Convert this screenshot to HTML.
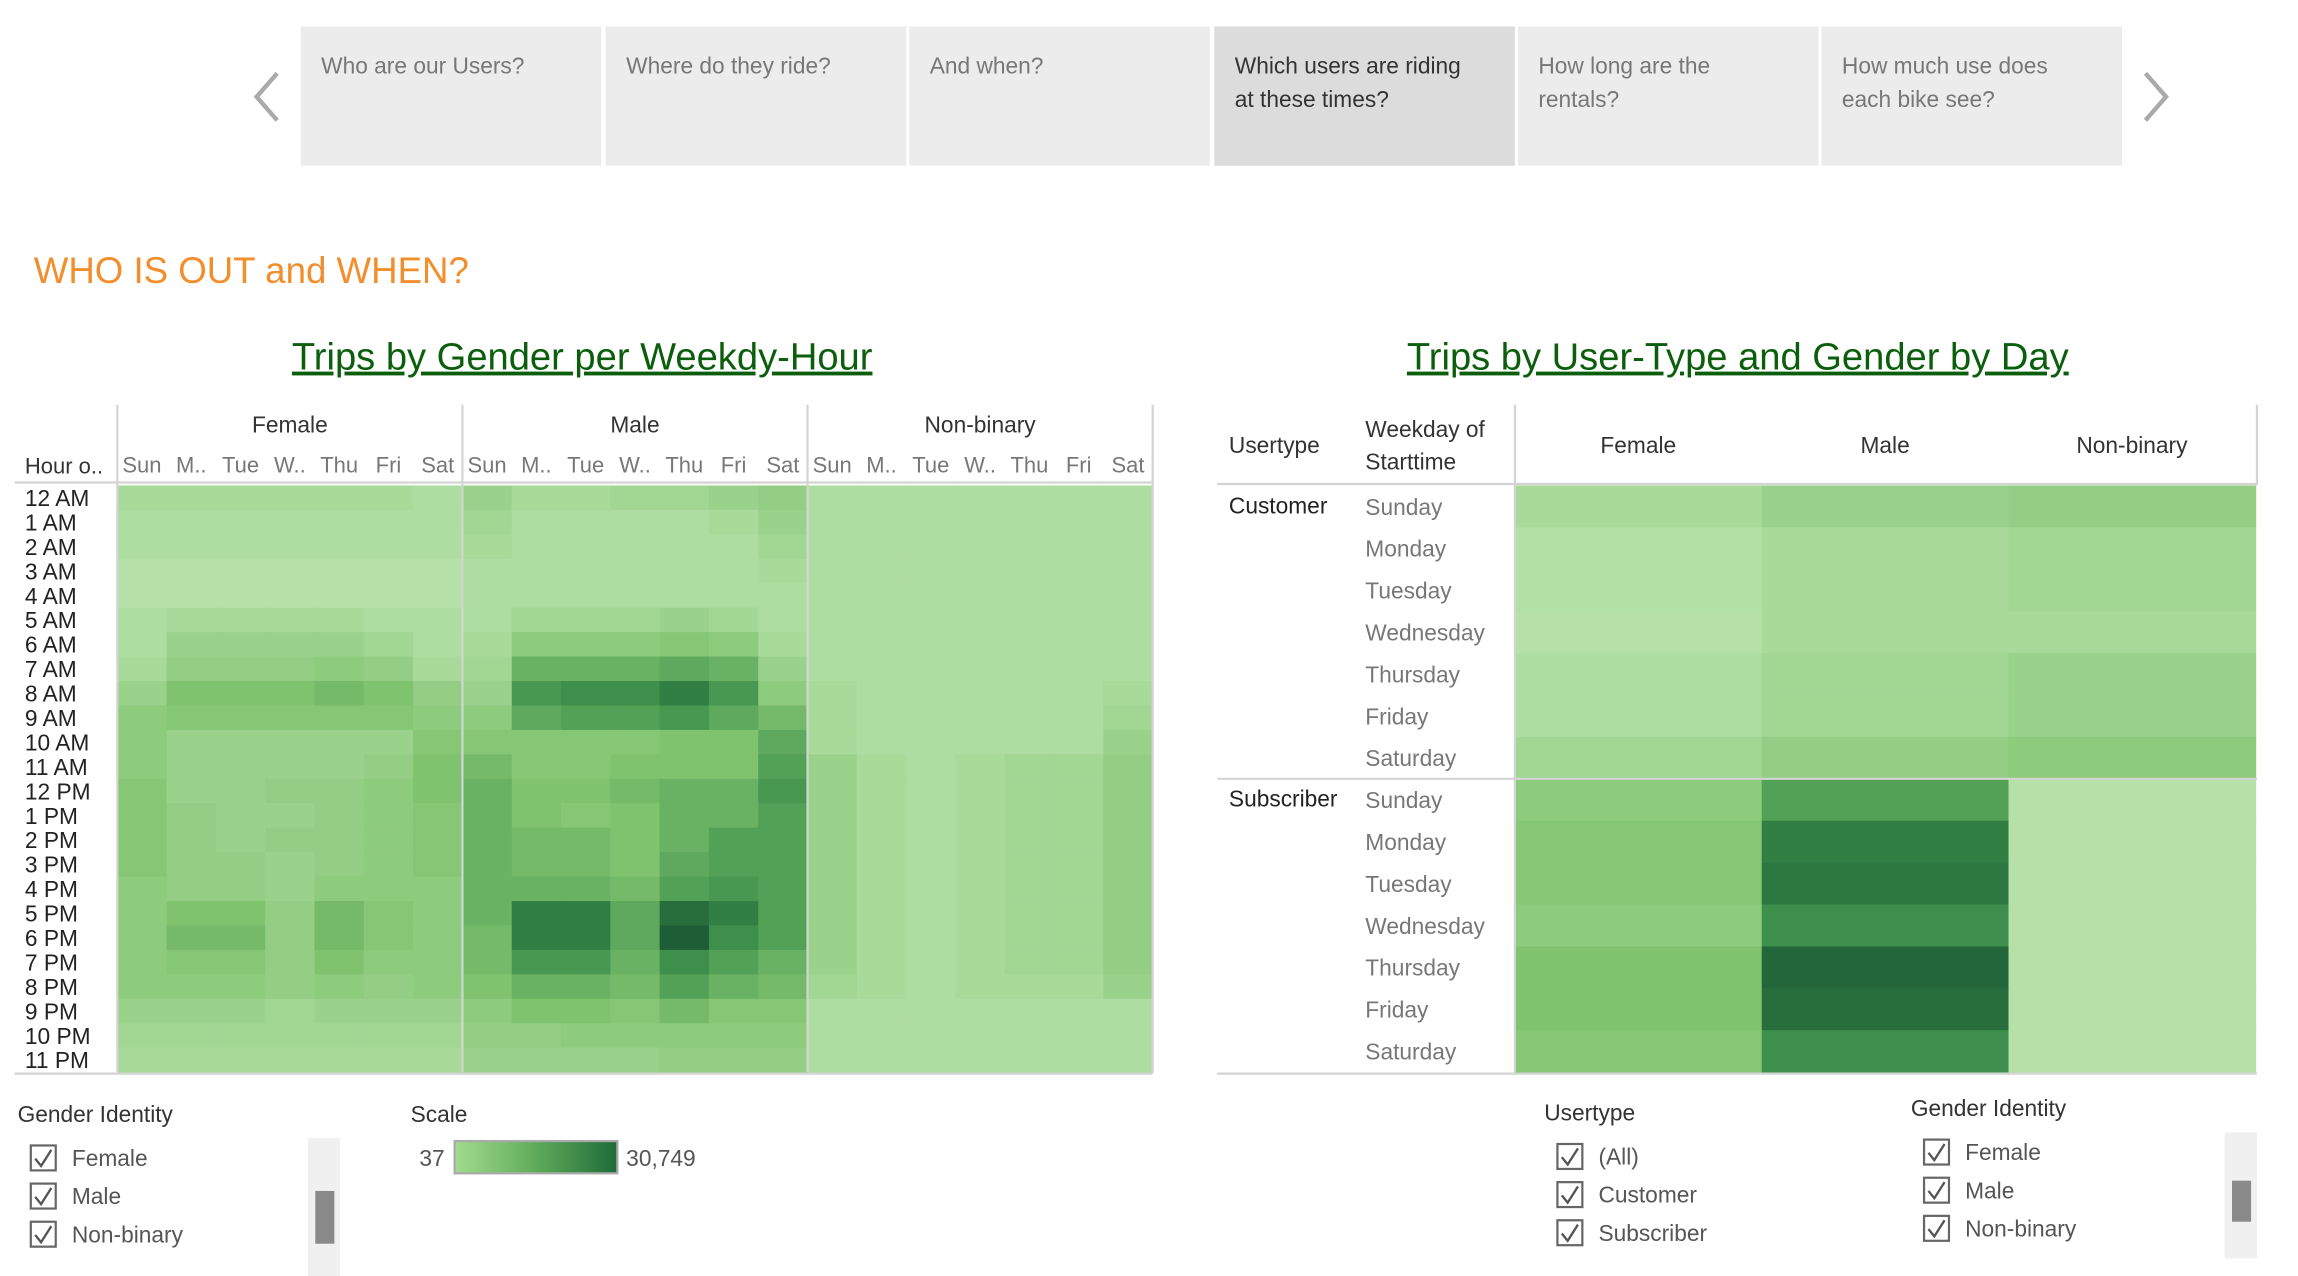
<!DOCTYPE html>
<html><head><meta charset="utf-8"><style>
html,body{margin:0;padding:0;background:#fff;}
svg{display:block;font-family:"Liberation Sans",sans-serif;}
</style></head><body>
<svg id="root" width="2298" height="1276" viewBox="0 0 1567 870" preserveAspectRatio="none" xmlns="http://www.w3.org/2000/svg">
<g id="nav"></g>
<text x="23" y="193" font-size="25" fill="#f28e2b">WHO IS OUT and WHEN?</text>
<text x="397" y="252" font-size="26" fill="#0b5e0b" text-anchor="middle" text-decoration="underline">Trips by Gender per Weekdy-Hour</text>
<text x="1185" y="252" font-size="26" fill="#0b5e0b" text-anchor="middle" text-decoration="underline">Trips by User-Type and Gender by Day</text>
<g id="left"></g>
<g id="right"></g>
<g id="legends"></g>
</svg>
<script>
const genders = ["Female","Male","Non-binary"];
const dayShort = ["Sun","M..","Tue","W..","Thu","Fri","Sat"];
const hours = ["12 AM","1 AM","2 AM","3 AM","4 AM","5 AM","6 AM","7 AM","8 AM","9 AM","10 AM","11 AM","12 PM","1 PM","2 PM","3 PM","4 PM","5 PM","6 PM","7 PM","8 PM","9 PM","10 PM","11 PM"];
// intensity levels 0..10 (Sun..Sat)
const femaleHourly = [
[1,1,1,1,1,1,0.5],[0.5,0.5,0.5,0.5,0.5,0.5,0.5],[0.5,0.5,0.5,0.5,0.5,0.5,0.5],[0,0,0,0,0,0,0],[0,0,0,0,0,0,0],
[0.5,1,1,1,1,0.5,0.5],[0.5,2,2,2,2,1.5,0.5],[1,2.5,2.5,2.5,3,2.5,1],[2,4,4,4,4.5,4,2.5],[3,3.5,3.5,3.5,3.5,3.5,3],
[3,2,2,2,2,2,3.5],[3,2,2,2,2,2.5,4],[3.5,2,2,2.5,2.5,3,4],[3.5,2.5,2,2,2.5,3,3.5],[3.5,2.5,2,2.5,2.5,3,3.5],
[3.5,2.5,2.5,2,2.5,3,3.5],[3,2.5,2.5,2,3,3,3],[3,4,4,2.5,4.5,3.5,3],[3,4.5,4.5,2.5,4.5,3.5,3],[3,3.5,3.5,2.5,4,3,3],
[3,3,3,2.5,3,2.5,3],[2,2,2,1.5,2,2,2],[1.5,1.5,1.5,1.5,1.5,1.5,1.5],[1,1,1,1,1,1,1]];
const maleHourly = [
[2,1,1,1.5,1.5,2,2.5],[1.5,0.5,0.5,0.5,0.5,1,2],[1,0.5,0.5,0.5,0.5,0.5,1.5],[0.5,0.5,0.5,0.5,0.5,0.5,1],[0.5,0.5,0.5,0.5,0.5,0.5,0.5],
[0.5,1.5,1.5,1.5,2,1.5,0.5],[1,3,3,3,3.5,3,1],[1.5,5,5,5,5.5,5,2],[2,6.5,7,7,8,6.5,3],[3,5.5,6,6,6.5,5.5,4.5],
[3.5,3.5,3.5,3.5,4,4,5.5],[4.5,3.5,3.5,4,4,4,6],[5,4,4,4.5,5,5,6.5],[5,4,3.5,4,5,5,6],[5,4.5,4.5,4,5,6,6],
[5,4.5,4.5,4,5.5,6,6],[5,5,5,4.5,6,6.5,6],[5,8,8,5.5,9,8,6],[4.5,8,8,5.5,10,7,6],[4.5,6.5,6.5,5,7,6,5],
[4,5,5,4.5,6,5,4.5],[3,4,4,3.5,4.5,3.5,3.5],[2.5,2.5,3,3,3,3,3],[2,2,2,2,2.5,2.5,2.5]];
const nonbinaryHourly = [
[0.5,0.5,0.5,0.5,0.5,0.5,0.5],[0.5,0.5,0.5,0.5,0.5,0.5,0.5],[0.5,0.5,0.5,0.5,0.5,0.5,0.5],[0.5,0.5,0.5,0.5,0.5,0.5,0.5],[0.5,0.5,0.5,0.5,0.5,0.5,0.5],
[0.5,0.5,0.5,0.5,0.5,0.5,0.5],[0.5,0.5,0.5,0.5,0.5,0.5,0.5],[0.5,0.5,0.5,0.5,0.5,0.5,0.5],[1,0.5,0.5,0.5,0.5,0.5,1],[1,0.5,0.5,0.5,0.5,0.5,1.5],
[1,0.5,0.5,0.5,0.5,0.5,2],[2,1,0.5,1,1.5,1.5,2.5],[2,1,0.5,1,1.5,1.5,2.5],[2,1,0.5,1,1.5,1.5,2.5],[2,1,0.5,1,1.5,1.5,2.5],
[2,1,0.5,1,1.5,1.5,2.5],[2,1,0.5,1,1.5,1.5,2.5],[2,1,0.5,1,1.5,1.5,2.5],[2,1,0.5,1,1.5,1.5,2.5],[2,1,0.5,1,1.5,1.5,2.5],
[1.5,1,0.5,1,1,1,2],[0.5,0.5,0.5,0.5,0.5,0.5,0.5],[0.5,0.5,0.5,0.5,0.5,0.5,0.5],[0.5,0.5,0.5,0.5,0.5,0.5,0.5]];
const dayNames = ["Sunday","Monday","Tuesday","Wednesday","Thursday","Friday","Saturday"];
const userTypes = ["Customer","Subscriber"];
// [Female, Male, Non-binary] per day
const customerDaily = [[1,2,2.5],[0.3,1,1.5],[0.3,1,1.5],[0,1,1],[0.5,1.5,2],[0.5,1.5,2],[1.5,2.5,3]];
const subscriberDaily = [[3,6,0],[3.5,8,0],[3.5,8.5,0],[3,7,0],[4,9.5,0],[4,9,0],[3.5,7,0]];
const navLabels = [["Who are our Users?"],["Where do they ride?"],["And when?"],["Which users are riding","at these times?"],["How long are the","rentals?"],["How much use does","each bike see?"]];

const NS="http://www.w3.org/2000/svg";
function mk(parent,tag,attrs,text){const e=document.createElementNS(NS,tag);for(const k in attrs)e.setAttribute(k,attrs[k]);if(text!==undefined)e.textContent=text;parent.appendChild(e);return e;}
const stops=[[0,[181,225,168]],[4,[127,195,111]],[7,[61,143,75]],[10,[29,94,54]]];
function color(v){for(let i=0;i<stops.length-1;i++){const a=stops[i],b=stops[i+1];if(v<=b[0]){const t=(v-a[0])/(b[0]-a[0]);const c=a[1].map((x,j)=>Math.round(x+(b[1][j]-x)*t));return `rgb(${c})`;}}return 'rgb(29,94,54)';}

// nav
const nav=document.getElementById('nav');
const navX=[205,413,620,828,1035,1242];
navLabels.forEach((lines,i)=>{
  const r=mk(nav,'rect',{x:navX[i],y:18,width:205,height:95,fill:i===3?'#dcdcdc':'#ececec'});
  
  
  lines.forEach((l,k)=>{const t=mk(nav,'text',{x:navX[i]+14,y:50+k*23,'font-size':15.5,fill:i===3?'#333':'#777'},l);
    
    });
});
let pa=mk(nav,'path',{d:'M189 50 L175 66 L189 82',stroke:'#aaa','stroke-width':3,fill:'none'});


pa=mk(nav,'path',{d:'M1463 50 L1477 66 L1463 82',stroke:'#aaa','stroke-width':3,fill:'none'});



// left heatmap
const L=document.getElementById('left');
const x0=80,paneW=235.33,cw=paneW/7,y0=331,rh=400/24;
const xScale=(g,d)=>x0+g*paneW+d*cw;
const yScale=h=>y0+h*rh;
[femaleHourly,maleHourly,nonbinaryHourly].forEach((data,g)=>{
  data.forEach((row,h)=>row.forEach((v,d)=>{
    const c=mk(L,'rect',{x:xScale(g,d),y:yScale(h),width:cw+0.6,height:rh+0.6,fill:color(v)});
    
    
  }));
  const t=mk(L,'text',{x:xScale(g,0)+paneW/2,y:295,'font-size':15.5,'text-anchor':'middle',fill:'#333'},genders[g]);
  
  
  dayShort.forEach((d,i)=>{const dt=mk(L,'text',{x:xScale(g,i)+cw/2,y:322,'font-size':15,'text-anchor':'middle',fill:'#777'},d);
    
    });
});
for(let g=0;g<=3;g++){mk(L,'line',{x1:x0+g*paneW,y1:276,x2:x0+g*paneW,y2:731,stroke:'#d4d4d4','stroke-width':1.5});}
mk(L,'line',{x1:10,y1:329,x2:786,y2:329,stroke:'#d4d4d4','stroke-width':1.5});
mk(L,'line',{x1:10,y1:732,x2:786,y2:732,stroke:'#d4d4d4','stroke-width':1.5});
let ht=mk(L,'text',{x:17,y:323,'font-size':15,fill:'#333'},'Hour o..');


hours.forEach((h,i)=>{const t=mk(L,'text',{x:17,y:yScale(i)+14,'font-size':15.5,fill:'#222'},h);
  
  });

// right heatmap
const R=document.getElementById('right');
const rx0=1033,rcw=168.3,ry0=331,rrh=200/7;
const rxScale=g=>rx0+g*rcw;
const ryScale=(u,d)=>ry0+u*200+d*rrh;
[customerDaily,subscriberDaily].forEach((data,u)=>{
  data.forEach((row,d)=>row.forEach((v,g)=>{
    const c=mk(R,'rect',{x:rxScale(g),y:ryScale(u,d),width:rcw+0.6,height:rrh+0.6,fill:color(v)});
    
    
  }));
  const ut=mk(R,'text',{x:838,y:ryScale(u,0)+19,'font-size':15.5,fill:'#222'},userTypes[u]);
  
  
  dayNames.forEach((d,i)=>{const t=mk(R,'text',{x:931,y:ryScale(u,i)+20,'font-size':15.5,fill:'#777'},d);
    
    });
});
genders.forEach((g,i)=>{const t=mk(R,'text',{x:rxScale(i)+rcw/2,y:309,'font-size':15.5,'text-anchor':'middle',fill:'#333'},g);
  
  });
[['Usertype',838,309],['Weekday of',931,298],['Starttime',931,320]].forEach(a=>{const t=mk(R,'text',{x:a[1],y:a[2],'font-size':15.5,fill:'#333'},a[0]);
  
  });
mk(R,'line',{x1:1033,y1:276,x2:1033,y2:731,stroke:'#d4d4d4','stroke-width':1.5});
mk(R,'line',{x1:1539,y1:276,x2:1539,y2:331,stroke:'#d4d4d4','stroke-width':1.5});
[330,531,732].forEach(y=>mk(R,'line',{x1:830,y1:y,x2:1539,y2:y,stroke:'#d4d4d4','stroke-width':1.5}));

// legends
const G=document.getElementById('legends');
function checklist(x,y,title,items,name){
  const t=mk(G,'text',{x:x,y:y,'font-size':15.5,fill:'#333'},title);
  
  
  items.forEach((it,i)=>{
    const cy=y+24+i*26;
    const b=mk(G,'rect',{x:x+9,y:cy-8,width:17,height:17,fill:'#fff',stroke:'#666','stroke-width':1.5});
    
    
    mk(G,'path',{d:`M${x+12} ${cy+1} L${x+16} ${cy+6} L${x+23} ${cy-5}`,stroke:'#555','stroke-width':1.6,fill:'none'});
    const l=mk(G,'text',{x:x+37,y:cy+6,'font-size':15.5,fill:'#555'},it);
    
    
  });
}
checklist(12,765,'Gender Identity',['Female','Male','Non-binary'],'gender-filter');
checklist(1053,764,'Usertype',['(All)','Customer','Subscriber'],'usertype-filter');
checklist(1303,761,'Gender Identity',['Female','Male','Non-binary'],'gender-filter-right');
let sb=mk(G,'rect',{x:210,y:776,width:22,height:94,fill:'#f0f0f0'});


mk(G,'rect',{x:215,y:812,width:13,height:36,fill:'#8a8a8a'});
sb=mk(G,'rect',{x:1517,y:772,width:22,height:86,fill:'#f0f0f0'});


mk(G,'rect',{x:1522,y:805,width:13,height:28,fill:'#8a8a8a'});
let st=mk(G,'text',{x:280,y:765,'font-size':15.5,fill:'#333'},'Scale');


const defs=mk(G,'defs',{});
const lg=mk(defs,'linearGradient',{id:'sg',x1:0,x2:1,y1:0,y2:0});
mk(lg,'stop',{offset:'0','stop-color':'#a2dc8e'});
mk(lg,'stop',{offset:'0.5','stop-color':'#5fab5a'});
mk(lg,'stop',{offset:'1','stop-color':'#1d6b38'});
const bar=mk(G,'rect',{x:310,y:778,width:111,height:22,fill:'url(#sg)',stroke:'#aaa','stroke-width':1.5});


let s1=mk(G,'text',{x:286,y:795,'font-size':15.5,fill:'#555'},'37');


let s2=mk(G,'text',{x:427,y:795,'font-size':15.5,fill:'#555'},'30,749');


</script>
</body></html>
